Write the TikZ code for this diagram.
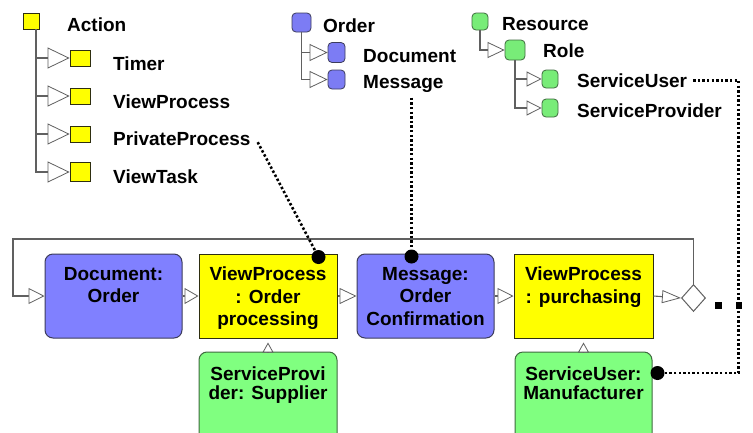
\documentclass[tikz,border=0pt]{standalone}
\usepackage{fontspec}
\setmainfont{Liberation Sans}
\usetikzlibrary{arrows.meta,shapes.geometric,calc}

\definecolor{boxblue}{HTML}{8080FF}
\definecolor{boxyellow}{HTML}{FFFF00}
\definecolor{boxgreen}{HTML}{80FF80}
\definecolor{sqblue}{HTML}{7C7CF4}
\definecolor{sqgreen}{HTML}{78EC78}
\definecolor{linegray}{HTML}{606060}
\definecolor{blueedge}{HTML}{3C3C5C}
\definecolor{greenedge}{HTML}{3F6A3F}
\definecolor{yellowedge}{HTML}{2E2E10}

\tikzset{
  tri/.style 2 args={-{Triangle[length=#1,width=#2,fill=white,line width=0.8pt]}},
  treeline/.style={draw=linegray, line width=1.1pt},
  flowline/.style={draw=linegray, line width=1.1pt},
  dotline/.style={draw=black, line width=2.6pt, dash pattern=on 2.4pt off 2.2pt},
  lbl/.style={anchor=base west, inner sep=0pt, text=black,
    font=\bfseries\fontsize{19}{22}\selectfont},
  boxtxt/.style={anchor=north, align=center, inner sep=0pt, text=black,
    font=\bfseries\fontsize{19}{22.5}\selectfont},
  boxtxttight/.style={boxtxt, font=\bfseries\fontsize{19}{19.5}\selectfont},
  ysq/.style={draw=yellowedge, fill=boxyellow, line width=0.8pt, inner sep=0pt,
    minimum width=20pt},
  bsq/.style={draw=blueedge, fill=sqblue, line width=0.8pt, inner sep=0pt,
    rounded corners=4pt},
  gsq/.style={draw=greenedge, fill=sqgreen, line width=0.8pt, inner sep=0pt,
    rounded corners=4pt},
  bluebox/.style={draw=blueedge, fill=boxblue, line width=1pt, rounded corners=8pt,
    minimum width=137pt, minimum height=84pt, inner sep=0pt},
  yellowbox/.style={draw=yellowedge, fill=boxyellow, line width=1pt,
    minimum width=138pt, minimum height=84pt, inner sep=0pt},
  greenbox/.style={draw=greenedge, fill=boxgreen, line width=1pt, rounded corners=8pt,
    minimum width=138pt, minimum height=100pt, inner sep=0pt},
  blob/.style={circle, fill=black, minimum size=14pt, inner sep=0pt},
}

\begin{document}
\begin{tikzpicture}[x=1pt,y=-1pt]
\useasboundingbox (0,0) rectangle (753,432);
\clip (0,0) rectangle (753,432);
\fill[white] (0,0) rectangle (753,432);

% ---------- Action hierarchy ----------
\node[ysq, minimum width=16pt, minimum height=16pt] (act) at (31,21) {};
\node[lbl] (act-t) at (67,31.5) {Action};
\node[ysq, minimum height=16pt] (timer) at (80,58) {};
\node[ysq, minimum height=16pt] (viewp) at (80,96) {};
\node[ysq, minimum height=16pt] (privp) at (80,134) {};
\node[ysq, minimum height=19pt] (viewt) at (80,172) {};
\node[lbl] (timer-t) at (113,70) {Timer};
\node[lbl] (viewp-t) at (113,108) {ViewProcess};
\node[lbl] (privp-t) at (113,145) {PrivateProcess};
\node[lbl] (viewt-t) at (113,183) {ViewTask};
\foreach \c in {timer,viewp,privp,viewt}
  \draw[treeline, tri={22pt}{21pt}] ([xshift=5pt]act.south) |- (\c.west);

% ---------- Order hierarchy ----------
\node[bsq, minimum width=19pt, minimum height=19pt] (ord) at (301.5,22.5) {};
\node[lbl] (ord-t) at (323,32) {Order};
\node[bsq, minimum width=17pt, minimum height=20pt] (docu) at (336.5,52.5) {};
\node[bsq, minimum width=17pt, minimum height=19pt] (mess) at (336.5,79.5) {};
\node[lbl] (docu-t) at (363,62) {Document};
\node[lbl] (mess-t) at (363,88.5) {Message};
\foreach \c in {docu,mess}
  \draw[treeline, tri={18pt}{17pt}] (ord.south) |- (\c.west);

% ---------- Resource hierarchy ----------
\node[gsq, minimum width=16pt, minimum height=17pt] (res) at (480,21.5) {};
\node[lbl] (res-t) at (502,30) {Resource};
\node[gsq, minimum width=20pt, minimum height=20pt] (role) at (515,50) {};
\node[lbl] (role-t) at (543,57) {Role};
\draw[treeline, tri={17pt}{16pt}] (res.south) |- (role.west);
\node[gsq, minimum width=16pt, minimum height=18pt] (suser) at (550,79) {};
\node[gsq, minimum width=16pt, minimum height=18pt] (sprov) at (550,108) {};
\node[lbl] (suser-t) at (577,87) {ServiceUser};
\node[lbl] (sprov-t) at (577,117) {ServiceProvider};
\foreach \c in {suser,sprov}
  \draw[treeline, tri={15pt}{15pt}] (role.south) |- (\c.west);

% ---------- Process chain ----------
\node[bluebox] (doc) at (113.5,296) {};
\node[boxtxt] (doc-t) at ($(doc.north)+(0,13.4)$) {Document:\\Order};
\node[yellowbox] (vp1) at (268,296) {};
\node[boxtxt] (vp1-t) at ($(vp1.north)+(0,13.4)$) {ViewProcess\\: Order\\processing};
\node[bluebox] (msg) at (425.5,296) {};
\node[boxtxt] (msg-t) at ($(msg.north)+(0,13.4)$) {Message:\\Order\\Confirmation};
\node[yellowbox, minimum width=139pt] (vp2) at (583.5,296) {};
\node[boxtxt] (vp2-t) at ($(vp2.north)+(0,13.4)$) {ViewProcess\\: purchasing};
\node[diamond, draw=linegray, fill=white, line width=1pt, inner sep=0pt,
  minimum width=24pt, minimum height=27pt] (dia) at (693.5,298) {};

\node[greenbox] (sup) at (268,402) {};
\node[boxtxttight] (sup-t) at ($(sup.north)+(0,15)$) {ServiceProvi\\der: Supplier};
\node[greenbox, minimum width=137pt] (mf) at (583.5,402) {};
\node[boxtxttight] (mf-t) at ($(mf.north)+(0,15)$) {ServiceUser:\\Manufacturer};

\draw[flowline, tri={14pt}{16pt}] (doc.east) -- (vp1.west);
\draw[flowline, tri={17pt}{16pt}] (vp1.east) -- (msg.west);
\draw[flowline, tri={16pt}{16pt}] (msg.east) -- (vp2.west);
\draw[flowline, tri={19pt}{13pt}] (vp2.east) -- (dia.west);
\draw[flowline, tri={10pt}{11pt}, shorten >=4pt] (sup.north) -- (vp1.south);
\draw[flowline, tri={10pt}{11pt}, shorten >=4pt] (mf.north) -- (vp2.south);

% loop back from the decision to the start
\coordinate (loopL) at (13,239);
\draw[flowline, tri={16pt}{16pt}] (dia.north) |- (loopL) |- (doc.west);

% ---------- dotted type links ----------
\node[blob] (ppdot) at (318.5,257) {};
\node[blob] (msgdot) at (411.5,256.5) {};
\node[blob] (mfdot) at (657.5,373) {};
\coordinate (turn) at (738.5,373);

\draw[dotline] ($(privp-t.east)+(7,4)$) -- (ppdot);
\draw[dotline] ($(msgdot |- mess-t.south)+(0,5)$) -- (msgdot);
\draw[dotline] ($(suser-t.east)+(6,0)$) -| (turn) -- (mfdot);

\fill[black] (715,302) rectangle (722,309);
\fill[black] (735.5,302) rectangle (742,309);
\end{tikzpicture}
\end{document}
